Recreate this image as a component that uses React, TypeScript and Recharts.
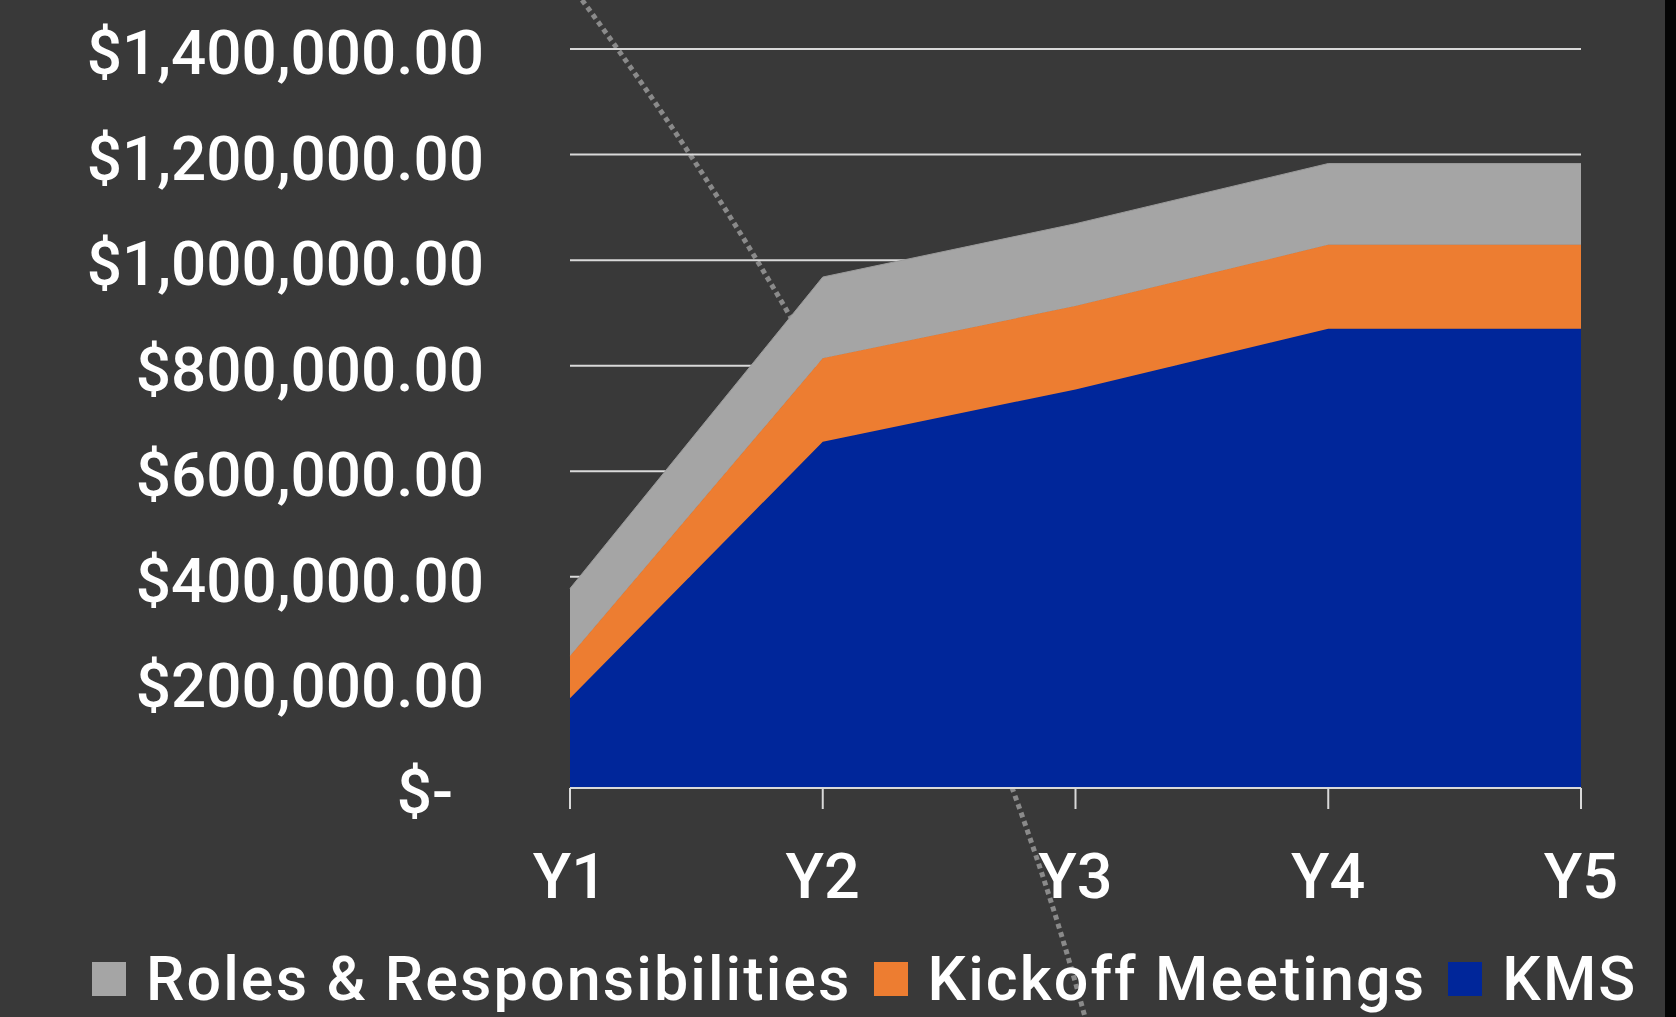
import React from 'react';
import { AreaChart, Area, XAxis, YAxis, CartesianGrid } from 'recharts';

const categories = ['Y1', 'Y2', 'Y3', 'Y4', 'Y5'];
const kmsValues = [170000, 656000, 755000, 870000, 870000];
const kickoffValues = [80000, 158000, 158000, 159000, 159000];
const rolesValues = [128000, 154000, 156000, 154000, 154000];
const yTicks = [0, 200000, 400000, 600000, 800000, 1000000, 1200000, 1400000];

const series = [
  { key: 'roles', name: 'Roles & Responsibilities', color: '#A5A5A5' },
  { key: 'kickoff', name: 'Kickoff Meetings', color: '#ED7D31' },
  { key: 'kms', name: 'KMS', color: '#00269A' },
];

const data = categories.map((c, i) => ({
  year: c,
  kms: kmsValues[i],
  kickoff: kickoffValues[i],
  roles: rolesValues[i],
}));

const fmtY = (v: number) =>
  v === 0
    ? '$-\u00A0\u00A0'
    : '$' + v.toLocaleString('en-US', { minimumFractionDigits: 2, maximumFractionDigits: 2 });

const FONT = 'Roboto, "Noto Sans", sans-serif';

export default function App() {
  return (
    <div
      style={{
        position: 'absolute',
        left: 0,
        top: 0,
        width: 1676,
        height: 1017,
        background: '#393939',
        overflow: 'hidden',
        fontFamily: FONT,
      }}
    >
      <svg width={1676} height={1017} style={{ position: 'absolute', left: 0, top: 0 }}>
        <path
          d="M582,0 Q941,486 1085,1017"
          fill="none"
          stroke="#8a8a8a"
          strokeWidth={5}
          strokeDasharray="5 4"
        />
        <rect x={1665} y={0} width={11} height={1017} fill="#050505" />
      </svg>
      <div style={{ position: 'absolute', left: 0, top: 0 }}>
        <AreaChart
          width={1676}
          height={1017}
          data={data}
          margin={{ top: 49, right: 95, bottom: 109, left: 0 }}
        >
          <CartesianGrid vertical={false} stroke="#d9d9d9" strokeWidth={2} />
          <XAxis
            dataKey="year"
            height={120}
            axisLine={{ stroke: '#d9d9d9', strokeWidth: 2 }}
            tickLine={{ stroke: '#d9d9d9', strokeWidth: 2 }}
            tickSize={21}
            tickMargin={44}
            tick={{ fill: '#ffffff', fontSize: 63, fontFamily: FONT, fontWeight: 500 }}
            interval={0}
          />
          <YAxis
            width={570}
            domain={[0, 1400000]}
            ticks={yTicks}
            axisLine={false}
            tickLine={false}
            tickSize={0}
            tickMargin={86}
            tickFormatter={fmtY}
            tick={{ fill: '#ffffff', fontSize: 62, fontFamily: FONT, fontWeight: 500, dy: 3 }}
            interval={0}
          />
          <Area
            type="linear"
            dataKey="kms"
            name="KMS"
            stackId="1"
            fill="#00269A"
            fillOpacity={1}
            stroke="#00269A"
            strokeWidth={1}
            isAnimationActive={false}
          />
          <Area
            type="linear"
            dataKey="kickoff"
            name="Kickoff Meetings"
            stackId="1"
            fill="#ED7D31"
            fillOpacity={1}
            stroke="#ED7D31"
            strokeWidth={1}
            isAnimationActive={false}
          />
          <Area
            type="linear"
            dataKey="roles"
            name="Roles & Responsibilities"
            stackId="1"
            fill="#A5A5A5"
            fillOpacity={1}
            stroke="#9a9a9a"
            strokeWidth={1}
            isAnimationActive={false}
          />
        </AreaChart>
      </div>
      <div
        style={{
          position: 'absolute',
          left: 92,
          top: 952,
          height: 54,
          display: 'flex',
          alignItems: 'center',
          color: '#ffffff',
          fontSize: 61,
          fontWeight: 500,
          letterSpacing: 2.1,
          lineHeight: 1,
          whiteSpace: 'nowrap',
        }}
      >
        {series.map((s, i) => (
          <div key={s.key} style={{ display: 'flex', alignItems: 'center', marginLeft: i === 0 ? 0 : 22 }}>
            <div style={{ width: 34, height: 34, background: s.color, marginRight: 20 }} />
            <span>{s.name}</span>
          </div>
        ))}
      </div>
    </div>
  );
}
